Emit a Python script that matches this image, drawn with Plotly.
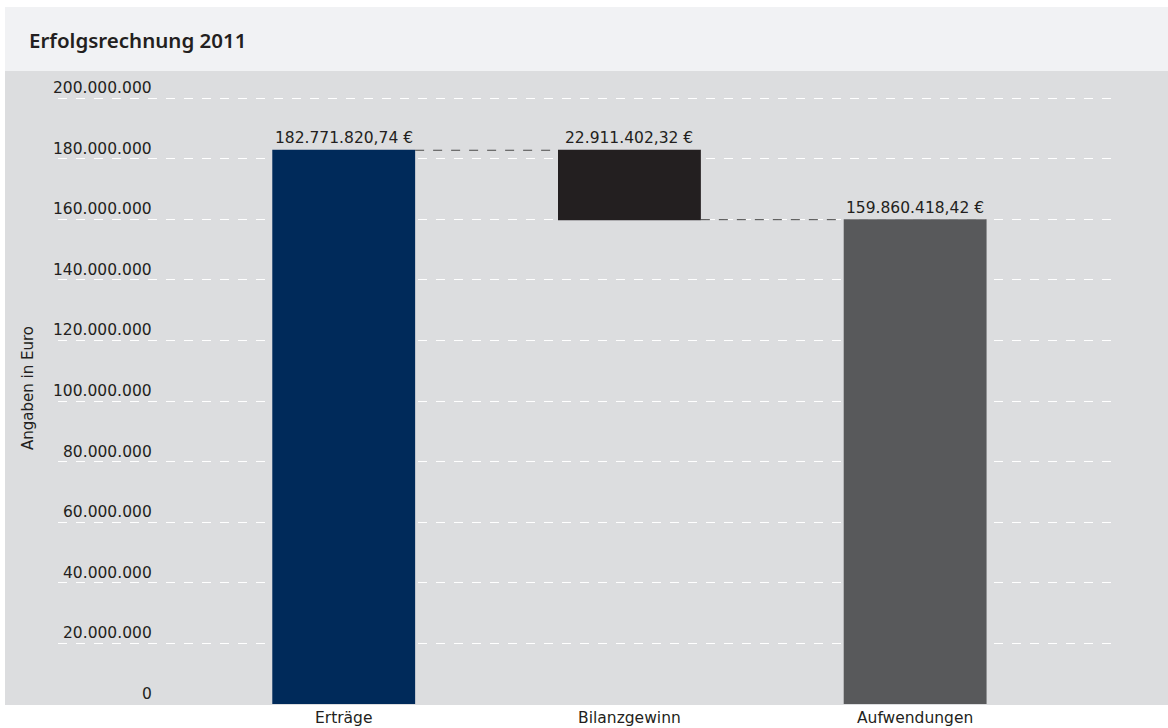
import plotly.graph_objects as go

# ---- data ----
categories = ["Erträge", "Bilanzgewinn", "Aufwendungen"]
values = [182771820.74, -22911402.32, 159860418.42]
measures = ["relative", "relative", "total"]
value_labels = ["182.771.820,74 €", "22.911.402,32 €", "159.860.418,42 €"]
tick_values = [0, 20000000, 40000000, 60000000, 80000000, 100000000,
               120000000, 140000000, 160000000, 180000000, 200000000]
tick_labels = ["0", "20.000.000", "40.000.000", "60.000.000", "80.000.000",
               "100.000.000", "120.000.000", "140.000.000", "160.000.000",
               "180.000.000", "200.000.000"]
title_text = "Erfolgsrechnung 2011"
y_title = "Angaben in Euro"

# ---- layout geometry (pixels) ----
W, H = 1168, 728
ML, MR, MT, MB = 58, 50, 92, 24
PW = W - ML - MR
PH = H - MT - MB

def px_x(px):
    return (px - ML) / PW

def px_y(py):
    return (H - MB - py) / PH

TXT = "#231f20"
FONT = "DejaVu Sans"

fig = go.Figure()
fig.add_trace(go.Waterfall(
    x=categories,
    y=values,
    measure=measures,
    width=0.5,
    increasing=dict(marker=dict(color="#002a5a")),
    decreasing=dict(marker=dict(color="#231f20")),
    totals=dict(marker=dict(color="#58595b")),
    connector=dict(line=dict(color="#4a4a4a", width=1, dash="dash"), mode="between"),
    hoverinfo="skip",
    showlegend=False,
))

# bar value labels placed at the top of each bar (computed from the data)
running = 0
tops = []
for v, m in zip(values, measures):
    if m == "total":
        tops.append(running)
    else:
        start = running
        running += v
        tops.append(max(start, running))
for cat, top, lab in zip(categories, tops, value_labels):
    fig.add_annotation(x=cat, y=top, xref="x", yref="y", text=lab,
                       showarrow=False, yanchor="bottom", yshift=1,
                       font=dict(family=FONT, size=15.5, color=TXT))

# y tick labels (above gridlines, right aligned)
for v, lab in zip(tick_values, tick_labels):
    fig.add_annotation(x=px_x(154), y=v, xref="paper", yref="y", text=lab,
                       showarrow=False, xanchor="right", yanchor="bottom", yshift=-1,
                       font=dict(family=FONT, size=15.5, color=TXT))

# y axis title
fig.add_annotation(x=px_x(28), y=px_y(388), xref="paper", yref="paper",
                   text=y_title, textangle=-90, showarrow=False,
                   xanchor="center", yanchor="middle",
                   font=dict(family=FONT, size=15, color=TXT))

# chart title
fig.add_annotation(x=px_x(27), y=px_y(40), xref="paper", yref="paper",
                   text=title_text, showarrow=False,
                   xanchor="left", yanchor="middle",
                   font=dict(family="Noto Sans", size=20.5, color=TXT, weight=600))

# background panels
fig.add_shape(type="rect", xref="paper", yref="paper",
              x0=px_x(5), x1=px_x(1168), y0=px_y(71), y1=px_y(7),
              fillcolor="#f1f2f4", line_width=0, layer="below")
fig.add_shape(type="rect", xref="paper", yref="paper",
              x0=px_x(5), x1=px_x(1168), y0=px_y(705), y1=px_y(71),
              fillcolor="#dcdddf", line_width=0, layer="below")

fig.update_layout(
    width=W, height=H,
    margin=dict(l=ML, r=MR, t=MT, b=MB, pad=0, autoexpand=False),
    paper_bgcolor="white",
    plot_bgcolor="rgba(0,0,0,0)",
    font=dict(family=FONT, color=TXT),
    xaxis=dict(type="category", range=[-1.0, 2.71], showgrid=False,
               zeroline=False, showline=False, ticks="",
               ticklabelstandoff=2, automargin=False,
               tickfont=dict(family=FONT, size=15.5, color=TXT)),
    yaxis=dict(range=[0, 202000000], tickvals=tick_values[1:],
               showticklabels=False, showgrid=True, gridcolor="#ffffff",
               gridwidth=1, griddash="dash", zeroline=False, showline=False,
               ticks="", automargin=False),
)

fig.write_html("out.html")
